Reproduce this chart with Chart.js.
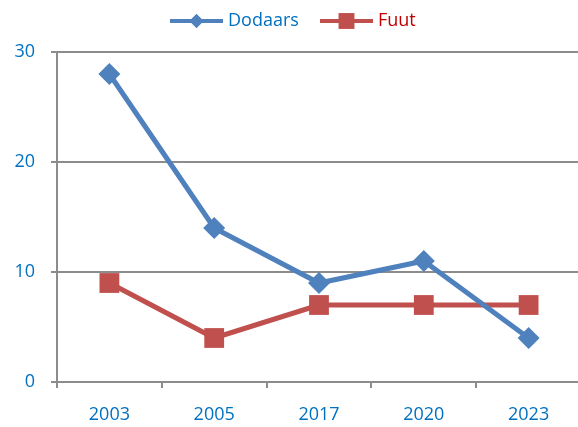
<!DOCTYPE html>
<html lang="en">
<head>
  <meta charset="UTF-8">
  <title>Dodaars en Fuut</title>
  <script src="https://cdn.jsdelivr.net/npm/chart.js"></script>
  <style>
    html, body { margin: 0; padding: 0; background: #fff; overflow: hidden; }
    #wrap { position: relative; width: 595px; height: 427px; }
  </style>
</head>
<body>
  <div id="wrap"><canvas id="chart" width="595" height="427"></canvas></div>

  <script>
    // data
    const years = ['2003', '2005', '2017', '2020', '2023'];
    const dodaars = [28, 14, 9, 11, 4];
    const fuut = [9, 4, 7, 7, 7];
    const yTicks = [0, 10, 20, 30];

    const blue = '#4F81BD';
    const red = '#C0504D';
    const labelBlue = '#0070C0';
    const axisGray = '#8C8C8C';
    const font = { family: 'Open Sans, Noto Sans, sans-serif', size: 18 };

    // legend with line + marker, drawn on top
    const legendPlugin = {
      id: 'lineLegend',
      afterDraw(chart) {
        const c = chart.ctx;
        const items = [
          { x: 170, text: 'Dodaars', color: blue, textColor: labelBlue, style: 'rectRot', r: 7 },
          { x: 320, text: 'Fuut', color: red, textColor: '#C00000', style: 'rect', r: 11 }
        ];
        const y = 21;
        c.save();
        items.forEach(it => {
          c.strokeStyle = it.color;
          c.lineWidth = 4;
          c.beginPath();
          c.moveTo(it.x, y);
          c.lineTo(it.x + 53, y);
          c.stroke();
          c.fillStyle = it.color;
          Chart.helpers.drawPoint(c, { pointStyle: it.style, radius: it.r, borderWidth: 0 }, it.x + 26.5, y);
          c.fill();
          c.fillStyle = it.textColor;
          c.font = '18px ' + font.family;
          c.textBaseline = 'middle';
          c.fillText(it.text, it.x + 58, y);
        });
        c.restore();
      }
    };

    new Chart(document.getElementById('chart'), {
      type: 'line',
      data: {
        labels: years,
        datasets: [
          {
            label: 'Dodaars',
            data: dodaars,
            borderColor: blue,
            backgroundColor: blue,
            borderWidth: 5,
            pointStyle: 'rectRot',
            pointRadius: 11,
            pointBorderWidth: 0,
            tension: 0
          },
          {
            label: 'Fuut',
            data: fuut,
            borderColor: red,
            backgroundColor: red,
            borderWidth: 5,
            pointStyle: 'rect',
            pointRadius: 14,
            pointBorderWidth: 0,
            tension: 0
          }
        ]
      },
      options: {
        responsive: false,
        animation: false,
        layout: { padding: { top: 52, left: 0, right: 0, bottom: 0 } },
        plugins: {
          legend: { display: false },
          tooltip: { enabled: false }
        },
        scales: {
          x: {
            offset: true,
            grid: { display: true, offset: true, drawOnChartArea: false, color: axisGray, lineWidth: 2, tickLength: 6 },
            border: { color: axisGray, width: 2 },
            ticks: { color: labelBlue, font: font, padding: 16 },
            afterFit(scale) { scale.height = 45; }
          },
          y: {
            min: 0,
            max: 30,
            afterBuildTicks(scale) { scale.ticks = yTicks.map(v => ({ value: v })); },
            grid: { color: axisGray, lineWidth: 2, tickLength: 6 },
            border: { color: axisGray, width: 2 },
            ticks: { color: labelBlue, font: font, padding: 16 },
            afterFit(scale) { scale.width = 57; }
          }
        }
      },
      plugins: [legendPlugin]
    });
  </script>
</body>
</html>
